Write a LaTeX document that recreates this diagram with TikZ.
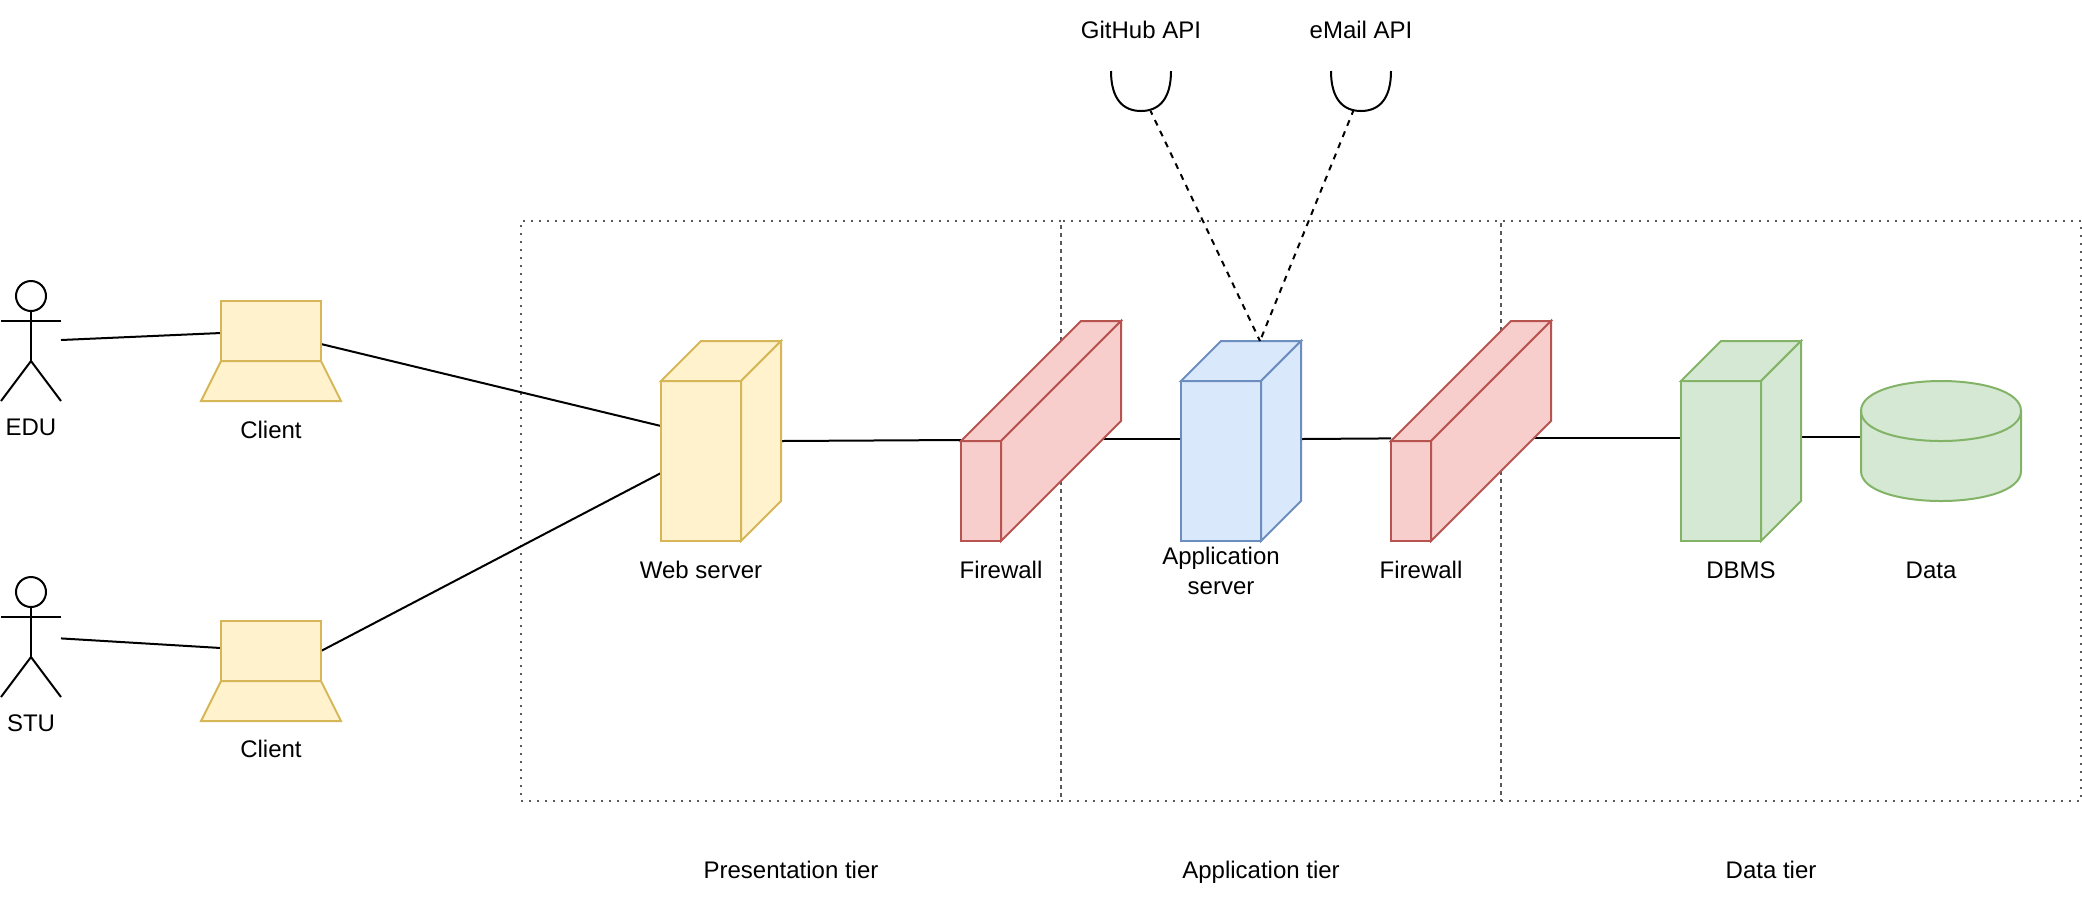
\documentclass[tikz,border=0pt]{standalone}
\usepackage{fontspec}
\setmainfont{Liberation Sans}
\usetikzlibrary{backgrounds}
\definecolor{yfill}{HTML}{FFF2CC}\definecolor{ystroke}{HTML}{D6B656}
\definecolor{rfill}{HTML}{F8CECC}\definecolor{rstroke}{HTML}{B85450}
\definecolor{bfill}{HTML}{DAE8FC}\definecolor{bstroke}{HTML}{6C8EBF}
\definecolor{gfill}{HTML}{D5E8D4}\definecolor{gstroke}{HTML}{82B366}
\tikzset{
  yellowshape/.style={draw=ystroke,fill=yfill,line width=1pt,line join=miter},
  redshape/.style={draw=rstroke,fill=rfill,line width=1pt},
  blueshape/.style={draw=bstroke,fill=bfill,line width=1pt},
  greenshape/.style={draw=gstroke,fill=gfill,line width=1pt},
  stroke/.style={draw=black,line width=1pt},
  conn/.style={draw=black,line width=1pt},
  dashconn/.style={draw=black,line width=1pt,dash pattern=on 3pt off 3pt,dash phase=1pt},
  tierbox/.style={draw=black!65,line width=1pt,dash pattern=on 1pt off 3pt},
  label/.style={font=\fontsize{12}{15}\selectfont,align=center,inner sep=0pt,text=black},
}
\newcommand{\cuboidshape}[7]{%
  \node[inner sep=0pt,outer sep=0pt,minimum width=#4*0.5pt,minimum height=#5*0.5pt,anchor=north west] (#1) at (#2,#3) {};
  \path[#7] ({#2},{#3+#6}) rectangle ({#2+#4-#6},{#3+#5});
  \path[#7] ({#2},{#3+#6}) -- ({#2+#6},{#3}) -- ({#2+#4},{#3}) -- ({#2+#4-#6},{#3+#6}) -- cycle;
  \path[#7] ({#2+#4-#6},{#3+#6}) -- ({#2+#4},{#3}) -- ({#2+#4},{#3+#5-#6}) -- ({#2+#4-#6},{#3+#5}) -- cycle;
}
\newcommand{\actorshape}[3]{%
  \node[inner sep=0pt,outer sep=0pt,minimum width=30pt,minimum height=60pt,anchor=north west] (#1) at (#2,#3) {};
  \draw[stroke] ({#2+30},{#3+15}) ellipse [x radius=15,y radius=15];
  \draw[stroke] ({#2+30},{#3+30}) -- ({#2+30},{#3+80});
  \draw[stroke] ({#2},{#3+40}) -- ({#2+60},{#3+40});
  \draw[stroke] ({#2},{#3+120}) -- ({#2+30},{#3+80}) -- ({#2+60},{#3+120});
}
\newcommand{\laptopshape}[3]{%
  \node[inner sep=0pt,outer sep=0pt,minimum width=50pt,minimum height=30pt,anchor=north west] (#1) at (#2,#3) {};
  \path[yellowshape] ({#2},{#3}) rectangle ({#2+100},{#3+60});
  \path[yellowshape] ({#2},{#3+60}) -- ({#2+100},{#3+60}) -- ({#2+120},{#3+100}) -- ({#2-20},{#3+100}) -- cycle;
}
\newcommand{\apishape}[3]{%
  \node[inner sep=0pt,outer sep=0pt,minimum width=30pt,minimum height=20pt,anchor=north west] (#1) at (#2,#3) {};
  \draw[stroke] ({#2},{#3}) .. controls ({#2},{#3+28}) and ({#2+12},{#3+40}) .. ({#2+30},{#3+40})
     .. controls ({#2+48},{#3+40}) and ({#2+60},{#3+28}) .. ({#2+60},{#3});
}
\begin{document}
\begin{tikzpicture}[x=0.5pt,y=-0.5pt]
\useasboundingbox (0,0) rectangle (2082,902);

% shapes
\actorshape{edu}{1}{281}
\actorshape{stu}{1}{577}
\laptopshape{clientA}{221}{301}
\laptopshape{clientB}{221}{621}
\cuboidshape{web}{661}{341}{120}{200}{40}{yellowshape}
\cuboidshape{fwA}{961}{321}{160}{220}{120}{redshape}
\cuboidshape{app}{1181}{341}{120}{200}{40}{blueshape}
\cuboidshape{fwB}{1391}{321}{160}{220}{120}{redshape}
\cuboidshape{dbms}{1681}{341}{120}{200}{40}{greenshape}
\node[inner sep=0pt,outer sep=0pt,minimum width=80pt,minimum height=60pt,anchor=north west] (data) at (1861,381) {};
\path[greenshape] (1861,411) .. controls (1861,371) and (2021,371) .. (2021,411) -- (2021,471)
   .. controls (2021,511) and (1861,511) .. (1861,471) -- cycle;
\draw[gstroke,line width=1pt] (1861,411) .. controls (1861,451) and (2021,451) .. (2021,411);
\apishape{git}{1111}{71}
\apishape{mail}{1331}{71}

% tier regions and connectors, behind the shapes
\begin{scope}[on background layer]
  \node[inner sep=0pt,outer sep=0pt,minimum width=270pt,minimum height=290pt,anchor=north west,tierbox] (tierP) at (521,221) {};
  \node[inner sep=0pt,outer sep=0pt,minimum width=220pt,minimum height=290pt,anchor=north west,tierbox] (tierA) at (1061,221) {};
  \node[inner sep=0pt,outer sep=0pt,minimum width=290pt,minimum height=290pt,anchor=north west,tierbox] (tierD) at (1501,221) {};
  \draw[conn] ([yshift=0.5pt]edu.east) -- ([yshift=-1pt]clientA.west);
  \draw[conn] ([yshift=-0.7pt]stu.east) -- ([yshift=1.5pt]clientB.west);
  \draw[conn] ([yshift=-6.5pt]clientA.east) -- ([yshift=7.5pt]web.west);
  \draw[conn] ([yshift=0pt]clientB.east) -- ([yshift=-16pt]web.west);
  \draw[conn] (web.east) -- ([yshift=-4.5pt]fwA.west);
  \draw[conn] ([yshift=-4pt]fwA.center) -- ([yshift=1pt]app.west);
  \draw[conn] ([yshift=1pt]app.east) -- ([yshift=-3.7pt]fwB.west);
  \draw[conn] ([yshift=-3.5pt]fwB.center) -- ([yshift=1.5pt]dbms.west);
  \draw[conn] ([yshift=2pt]dbms.east) -- ([yshift=2pt]data.west);
\end{scope}
\draw[dashconn] ([xshift=4.8pt]git.south) -- ([xshift=9.5pt]app.north);
\draw[dashconn] ([xshift=-3.9pt]mail.south) -- ([xshift=9.5pt]app.north);

% labels
\node[label] (lEdu) at (31,427) {EDU};
\node[label] (lStu) at (31,723) {STU};
\node[label] (lCa) at (271,430) {Client};
\node[label] (lCb) at (271,749) {Client};
\node[label] (lWeb) at (701,570) {Web server};
\node[label] (lFa) at (1001,570) {Firewall};
\node[label] (lApp) at (1221,571) {Application\\server};
\node[label] (lFb) at (1421,570) {Firewall};
\node[label] (lDb) at (1741,570) {DBMS};
\node[label] (lData) at (1931,570) {Data};
\node[label] (lGit) at (1141,30) {GitHub API};
\node[label] (lMail) at (1361,30) {eMail API};
\node[label] (lTp) at (791,870) {Presentation tier};
\node[label] (lTa) at (1261,872) {Application tier};
\node[label] (lTd) at (1771,870) {Data tier};
\end{tikzpicture}
\end{document}
